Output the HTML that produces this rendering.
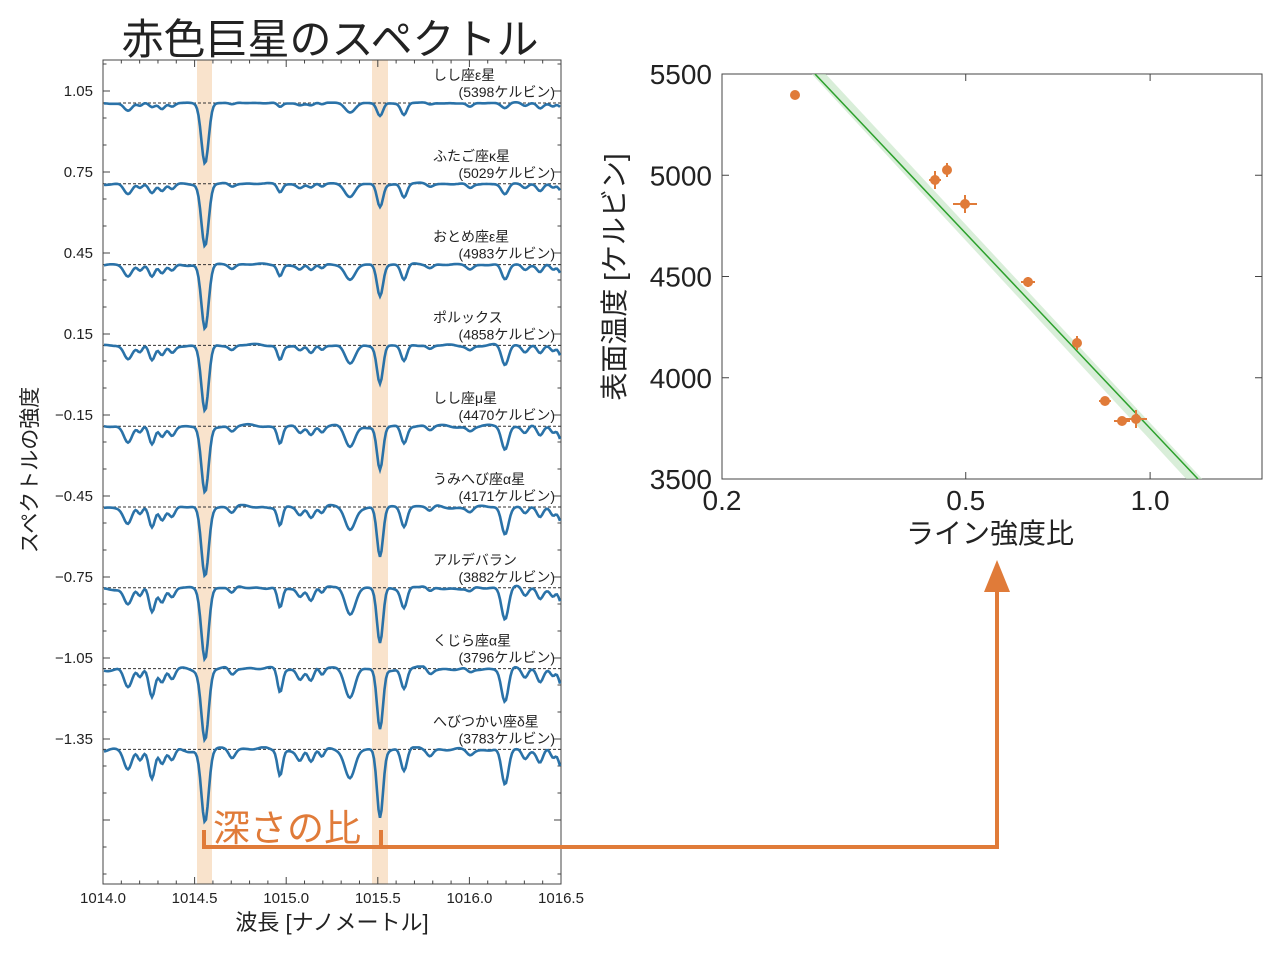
<!DOCTYPE html><html><head><meta charset="utf-8"><style>
body{margin:0;background:#fff;width:1282px;height:949px;overflow:hidden}
svg text{font-family:"Liberation Sans","Noto Sans CJK JP",sans-serif;fill:#222}
</style></head><body>
<svg id="s" width="1282" height="949" xmlns="http://www.w3.org/2000/svg"></svg>
<script>
var o='';
o+='<text x="330" y="54" font-size="42" text-anchor="middle">赤色巨星のスペクトル</text>';
o+='<rect x="197" y="60" width="15" height="824" fill="#f9e3cc"/><rect x="372" y="60" width="16" height="824" fill="#f9e3cc"/>';
o+='<rect x="103" y="60" width="458" height="824" fill="none" stroke="#444" stroke-width="1"/>';
for(var i=0;i<=25;i++){var x=103+i*18.32;var L=(i%5==0)?7:3.5;o+='<line x1="'+x+'" x2="'+x+'" y1="884" y2="'+(884-L)+'" stroke="#444"/><line x1="'+x+'" x2="'+x+'" y1="60" y2="'+(60+L)+'" stroke="#444"/>';}
var xl=['1014.0','1014.5','1015.0','1015.5','1016.0','1016.5'];
for(i=0;i<6;i++)o+='<text x="'+(103+i*91.6)+'" y="903" font-size="15" text-anchor="middle">'+xl[i]+'</text>';
for(i=-1;i<30;i++){var y=91+i*27;if(y<62||y>882)continue;var L=(i%3==0)?7:3.5;o+='<line x1="103" x2="'+(103+L)+'" y1="'+y+'" y2="'+y+'" stroke="#444"/><line x1="561" x2="'+(561-L)+'" y1="'+y+'" y2="'+y+'" stroke="#444"/>';}
var yl=['1.05','0.75','0.45','0.15','\u22120.15','\u22120.45','\u22120.75','\u22121.05','\u22121.35'];
for(i=0;i<9;i++)o+='<text x="93" y="'+(96+i*81)+'" font-size="15" text-anchor="end">'+yl[i]+'</text>';
o+='<text transform="translate(37,470) rotate(-90)" font-size="21" text-anchor="middle">スペクトルの強度</text>';
o+='<text x="332" y="930" font-size="22" text-anchor="middle">波長 [ナノメートル]</text>';
var lines=[[128,4,8,20],[140,2.5,3,10],[152,3,4,30],[162,3,6,16],[172,3,4,12],[205,3.6,60,72],[232,3,2,8],[280,2.5,4,25],[300,3,2,10],[311,3,2,14],[322,2.5,2,8],[350,5,9,30],[380,3,13,66],[404,3,12,22],[430,3,2,6],[470,3,4,4],[505,3.5,5,38],[525,3,3,10],[540,3,5,12],[553,2.5,3,8],[562,3,5,20]];
var names=[['しし座ε星','5398'],['ふたご座κ星','5029'],['おとめ座ε星','4983'],['ポルックス','4858'],['しし座μ星','4470'],['うみへび座α星','4171'],['アルデバラン','3882'],['くじら座α星','3796'],['へびつかい座δ星','3783']];
for(var s=0;s<9;s++){var b=103+s*80.8;var t=s/8;
o+='<line x1="103" x2="561" y1="'+b+'" y2="'+b+'" stroke="#333" stroke-width="1" stroke-dasharray="3,2"/>';
var d='';for(var x=104;x<=560;x+=1.5){var v=0;for(var j=0;j<lines.length;j++){var l=lines[j];var dep=l[2]+(l[3]-l[2])*Math.pow(t,0.8);v+=dep*Math.exp(-Math.pow((x-l[0])/l[1],2)/2);}
v+=0.9*(Math.sin(x*0.13+s)+Math.sin(x*0.29+2*s)*0.7+Math.sin(x*0.071)*0.8)*(0.4+t);
d+=(x==104?'M':'L')+x+','+(b+Math.max(v,-2)).toFixed(1);}
o+='<path d="'+d+'" fill="none" stroke="#2a72a8" stroke-width="2.6"/>';
o+='<text x="433" y="'+(b-23)+'" font-size="14">'+names[s][0]+'</text><text x="555" y="'+(b-6)+'" font-size="14" text-anchor="end">('+names[s][1]+'ケルビン)</text>';}
o+='<path d="M204,830 V847 H381 V830 M204,847 H997 V585" fill="none" stroke="#e07b39" stroke-width="4"/>';
o+='<polygon points="997,560 984,592 1010,592" fill="#e07b39"/>';
o+='<text x="213" y="841" font-size="37" style="fill:#e07b39">深さの比</text>';
o+='<rect x="722" y="74" width="540" height="405" fill="none" stroke="#444"/>';
function X(r){return 722+Math.log(r/0.2)*266;}function Y(T){return 74+(5500-T)*0.2025;}
var xs=[0.2,0.5,1.0],xt=['0.2','0.5','1.0'];for(i=0;i<3;i++){var x=X(xs[i]);o+='<line x1="'+x+'" x2="'+x+'" y1="479" y2="472" stroke="#444"/><line x1="'+x+'" x2="'+x+'" y1="74" y2="81" stroke="#444"/><text x="'+x+'" y="510" font-size="28" text-anchor="middle">'+xt[i]+'</text>';}
for(var T=3500;T<=5500;T+=500){var y=Y(T);o+='<line x1="722" x2="729" y1="'+y+'" y2="'+y+'" stroke="#444"/><line x1="1262" x2="1255" y1="'+y+'" y2="'+y+'" stroke="#444"/><text x="712" y="'+(y+10)+'" font-size="28" text-anchor="end">'+T+'</text>';}
o+='<text transform="translate(624,277) rotate(-90)" font-size="28" text-anchor="middle">表面温度 [ケルビン]</text>';
o+='<text x="990" y="543" font-size="28" text-anchor="middle">ライン強度比</text>';
o+='<clipPath id="c"><rect x="722" y="74" width="540" height="405"/></clipPath>';
o+='<polygon clip-path="url(#c)" points="808,70 822,70 1206,483 1190,483" fill="#bfe3bf" opacity="0.6"/>';
o+='<line clip-path="url(#c)" x1="815" y1="74" x2="1198" y2="479" stroke="#2ca02c" stroke-width="1.5"/>';
var pts=[[795,95,4,3],[935,180,6,9],[947,170,4,7],[965,204,12,9],[1028,282,7,5],[1077,343,4,7],[1105,401,6,3],[1122,421,8,3],[1136,419,11,9]];
for(i=0;i<pts.length;i++){var p=pts[i];o+='<path d="M'+(p[0]-p[2])+','+p[1]+'H'+(p[0]+p[2])+'M'+p[0]+','+(p[1]-p[3])+'V'+(p[1]+p[3])+'" stroke="#e07b39" stroke-width="2"/><circle cx="'+p[0]+'" cy="'+p[1]+'" r="5" fill="#e07b39"/>';}
document.getElementById('s').innerHTML=o;
</script></body></html>
